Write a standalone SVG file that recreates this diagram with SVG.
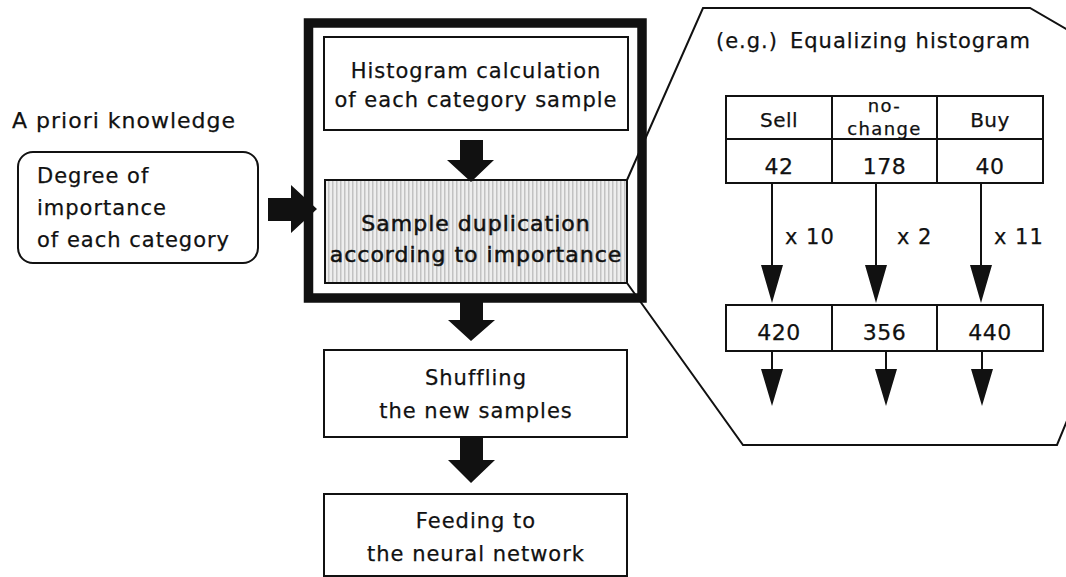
<svg xmlns="http://www.w3.org/2000/svg" width="1066" height="577" viewBox="0 0 1066 577">
  <style>
    text { font-family: "DejaVu Sans", "Liberation Sans", sans-serif; fill: #111; stroke: #111; stroke-width: 0.25; }
    .t { font-size: 21px; letter-spacing: 1px; }
    .mid { text-anchor: middle; }
    .cell { font-size: 20px; text-anchor: middle; letter-spacing: 0.5px; }
    .small { font-size: 18px; letter-spacing: 1.4px; }
    .num { font-size: 22px; }
    .box { fill: #fff; stroke: #111; stroke-width: 2; }
    .line { fill: none; stroke: #111; stroke-width: 2; }
    .fat { fill: #111; stroke: none; }
    .bold { font-size: 22px; stroke-width: 0.5; }
  </style>
  <defs>
    <pattern id="stripes" width="4" height="8" patternUnits="userSpaceOnUse">
      <rect width="4" height="8" fill="#eeeeee"/>
      <rect width="1.5" height="8" fill="#c2c2c2"/>
    </pattern>
  </defs>

  <!-- magnified detail panel (drawn first, the frame sits over its edges) -->
  <g id="detail-panel">
    <path class="line" d="M627,180 L703,8 L1030,8 L1080,37 L1080,389 L1057,445 L743,445 L627,283"/>
    <text class="t" x="716" y="48">(e.g.)<tspan x="790">Equalizing histogram</tspan></text>
  </g>

  <g id="table-before">
    <rect class="box" x="726" y="96" width="317" height="87"/>
    <path class="line" d="M726,139 H1043 M832,96 V183 M937,96 V183"/>
    <text class="cell" x="779" y="127">Sell</text>
    <text class="cell small" x="884.5" y="112">no-</text>
    <text class="cell small" x="884.5" y="135">change</text>
    <text class="cell" x="990" y="127">Buy</text>
    <text class="cell num" x="779" y="174">42</text>
    <text class="cell num" x="884.5" y="174">178</text>
    <text class="cell num" x="990" y="174">40</text>
  </g>

  <g id="table-after">
    <rect class="box" x="726" y="305" width="317" height="46"/>
    <path class="line" d="M832,305 V351 M937,305 V351"/>
    <text class="cell num" x="779" y="340">420</text>
    <text class="cell num" x="884.5" y="340">356</text>
    <text class="cell num" x="990" y="340">440</text>
  </g>

  <!-- outer frame grouping the two weighting steps -->
  <g id="weighting-frame">
    <rect x="308.5" y="23" width="333.5" height="275" fill="none" stroke="#111" stroke-width="9.5"/>
  </g>

  <g id="histogram-calc">
    <rect class="box" x="324" y="37" width="304" height="93"/>
    <text class="t mid" x="476" y="78">Histogram calculation</text>
    <text class="t mid" x="476" y="107">of each category sample</text>
  </g>

  <g id="sample-duplication">
    <rect x="325" y="180" width="302" height="103" fill="url(#stripes)" stroke="#111" stroke-width="2"/>
    <text class="t mid bold" x="476" y="231">Sample duplication</text>
    <text class="t mid bold" x="476" y="262">according to importance</text>
  </g>

  <g id="shuffling">
    <rect class="box" x="324" y="350" width="303" height="87"/>
    <text class="t mid" x="476" y="385">Shuffling</text>
    <text class="t mid" x="476" y="418">the new samples</text>
  </g>

  <g id="feeding">
    <rect class="box" x="324" y="494" width="303" height="82"/>
    <text class="t mid" x="476" y="528">Feeding to</text>
    <text class="t mid" x="476" y="561">the neural network</text>
  </g>

  <g id="prior-knowledge">
    <text class="t" x="12" y="128" style="font-size:22px">A priori knowledge</text>
    <rect class="box" x="18" y="152" width="240" height="111" rx="15"/>
    <text class="t" x="37" y="183">Degree of</text>
    <text class="t" x="37" y="215">importance</text>
    <text class="t" x="37" y="247">of each category</text>
  </g>

  <g id="connectors">
    <!-- thick block arrows of the main flow -->
    <path class="fat" d="M268,198 H291 V185 L317,209 L291,233 V221 H268 Z"/>
    <path class="fat" d="M460,140 H483 V160 H494 L471,182 L447,160 H460 Z"/>
    <path class="fat" d="M460,302 H483 V320 H495 L471,341 L448,320 H460 Z"/>
    <path class="fat" d="M460,437 H483 V460 H495 L471,483 L448,460 H460 Z"/>

    <!-- multiplication arrows between the tables -->
    <path class="line" d="M772,183 V270 M876,183 V270 M981,183 V270"/>
    <path class="fat" d="M761,265 H783 L772,303 Z M865,265 H887 L876,303 Z M970,265 H992 L981,303 Z"/>
    <text class="t" x="785" y="244">x 10</text>
    <text class="t" x="897" y="244">x 2</text>
    <text class="t" x="994" y="244">x 11</text>

    <!-- outgoing arrows below the equalized counts -->
    <path class="line" d="M772,351 V372 M886,351 V372 M982,351 V372"/>
    <path class="fat" d="M761,369 H783 L772,406 Z M875,369 H897 L886,406 Z M971,369 H993 L982,406 Z"/>
  </g>
</svg>
